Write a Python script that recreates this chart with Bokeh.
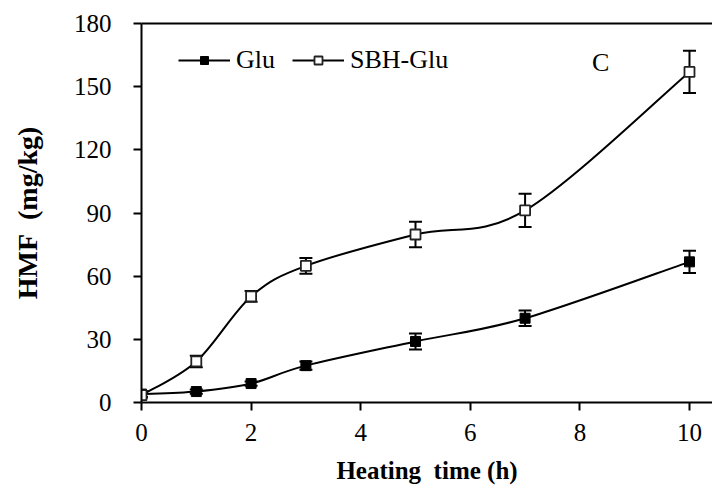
from bokeh.plotting import figure
from bokeh.models import (ColumnDataSource, Whisker, TeeHead, Legend, LegendItem,
                          Label, LinearAxis, FixedTicker, Range1d)
from bokeh.embed import file_html
from bokeh.resources import INLINE

# ---- data ----
hours = [0, 1, 2, 3, 5, 7, 10]
glu = [4.0, 5.2, 9.0, 17.5, 29.0, 40.0, 66.8]
glu_err = [1.5, 1.0, 1.0, 2.0, 3.8, 3.7, 5.3]
sbh_glu = [3.5, 19.5, 50.4, 64.9, 79.8, 91.2, 157.0]
sbh_glu_err = [1.0, 2.7, 2.6, 3.7, 6.1, 7.9, 10.0]
x_ticks = [0, 2, 4, 6, 8, 10]
y_ticks = [0, 30, 60, 90, 120, 150, 180]
series_names = ["Glu", "SBH-Glu"]

FONT = "Liberation Serif"


def smooth_segments(xs, ys):
    """Excel-like smoothed line: cubic Bezier control points (Catmull-Rom, 1/6)."""
    n = len(xs)
    out = dict(x0=[], y0=[], x1=[], y1=[], cx0=[], cy0=[], cx1=[], cy1=[])
    for i in range(n - 1):
        im1 = max(i - 1, 0)
        ip2 = min(i + 2, n - 1)
        out["x0"].append(xs[i]); out["y0"].append(ys[i])
        out["x1"].append(xs[i + 1]); out["y1"].append(ys[i + 1])
        out["cx0"].append(xs[i] + (xs[i + 1] - xs[im1]) / 6.0)
        out["cy0"].append(ys[i] + (ys[i + 1] - ys[im1]) / 6.0)
        out["cx1"].append(xs[i + 1] - (xs[ip2] - xs[i]) / 6.0)
        out["cy1"].append(ys[i + 1] - (ys[ip2] - ys[i]) / 6.0)
    return out


p = figure(width=712, height=486, output_backend="svg", toolbar_location=None,
           x_range=Range1d(0, 10.42), y_range=Range1d(0, 180),
           min_border_left=141, min_border_right=0, min_border_top=23,
           min_border_bottom=82)
p.outline_line_color = None
p.grid.visible = False
p.background_fill_color = "white"

# axes styling
for ax in (p.xaxis[0], p.yaxis[0]):
    ax.axis_line_width = 2
    ax.axis_line_color = "black"
    ax.major_tick_line_width = 2
    ax.major_tick_in = 0
    ax.major_tick_out = 8
    ax.minor_tick_line_color = None
    ax.major_label_text_font = FONT
    ax.major_label_text_font_size = "25px"
    ax.major_label_text_color = "black"
    ax.axis_label_text_font = FONT
    ax.axis_label_text_font_style = "bold"
    ax.axis_label_text_color = "black"

p.xaxis.ticker = FixedTicker(ticks=x_ticks)
p.yaxis.ticker = FixedTicker(ticks=y_ticks)
p.xaxis.axis_label = "Heating\u00a0 time (h)"
p.yaxis.axis_label = "HMF\u00a0 (mg/kg)"
p.xaxis.axis_label_text_font_size = "25px"
p.yaxis.axis_label_text_font_size = "28px"
p.xaxis.major_label_standoff = 13
p.yaxis.major_label_standoff = 22
p.xaxis.axis_label_standoff = 13
p.yaxis.axis_label_standoff = 28

top = LinearAxis(ticker=FixedTicker(ticks=[]), axis_line_width=2,
                 major_tick_line_color=None, minor_tick_line_color=None,
                 major_label_text_font_size="0px")
p.add_layout(top, "above")

# error bars
src_g = ColumnDataSource(dict(x=hours, y=glu,
                              lo=[v - e for v, e in zip(glu, glu_err)],
                              hi=[v + e for v, e in zip(glu, glu_err)]))
src_s = ColumnDataSource(dict(x=hours, y=sbh_glu,
                              lo=[v - e for v, e in zip(sbh_glu, sbh_glu_err)],
                              hi=[v + e for v, e in zip(sbh_glu, sbh_glu_err)]))
for src in (src_g, src_s):
    w = Whisker(source=src, base="x", lower="lo", upper="hi",
                line_width=2, line_color="black",
                upper_head=TeeHead(size=13, line_width=2, line_color="black"),
                lower_head=TeeHead(size=13, line_width=2, line_color="black"))
    p.add_layout(w)

# smoothed lines
bz_g = p.bezier(source=ColumnDataSource(smooth_segments(hours, glu)),
                x0="x0", y0="y0", x1="x1", y1="y1", cx0="cx0", cy0="cy0",
                cx1="cx1", cy1="cy1", line_color="black", line_width=2)
bz_s = p.bezier(source=ColumnDataSource(smooth_segments(hours, sbh_glu)),
                x0="x0", y0="y0", x1="x1", y1="y1", cx0="cx0", cy0="cy0",
                cx1="cx1", cy1="cy1", line_color="black", line_width=2)

sc_g = p.scatter(hours, glu, marker="square", size=10, fill_color="black",
                 line_color="black", line_width=1)
sc_s = p.scatter(hours, sbh_glu, marker="square", size=10, fill_color="white",
                 line_color="#222222", line_width=1.8)

legend = Legend(items=[LegendItem(label=series_names[0], renderers=[bz_g, sc_g]),
                       LegendItem(label=series_names[1], renderers=[bz_s, sc_s])],
                orientation="horizontal", location=(37, 327),
                glyph_width=52, glyph_height=20, label_standoff=6, spacing=17,
                padding=0, margin=0, border_line_color=None,
                background_fill_alpha=0, label_text_font=FONT,
                label_text_font_size="26px", label_text_color="black")
p.add_layout(legend, "center")

p.add_layout(Label(x=8.38, y=161.5, text="C", text_font=FONT,
                   text_font_size="26px", text_align="center",
                   text_baseline="middle", text_color="black"))

open("out.html", "w").write(file_html(p, INLINE))
